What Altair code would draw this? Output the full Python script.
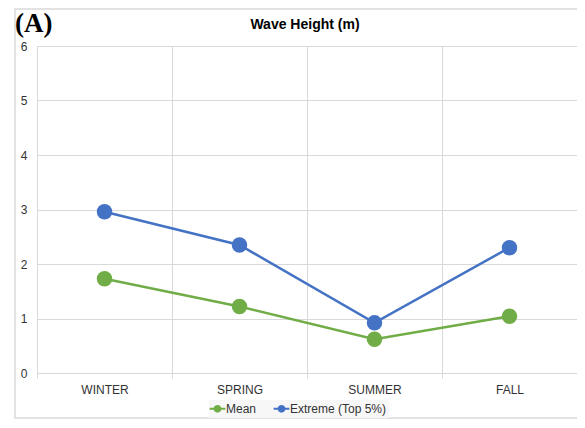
import altair as alt
import pandas as pd

seasons = ["WINTER", "SPRING", "SUMMER", "FALL"]
mean_vals = [1.73, 1.22, 0.62, 1.04]
extreme_vals = [2.96, 2.35, 0.92, 2.30]
series = ["Mean", "Extreme (Top 5%)"]
colors = ["#70AD47", "#4472C4"]
y_ticks = [0, 1, 2, 3, 4, 5, 6]
title_text = "Wave Height (m)"
panel_label = "(A)"

rows = []
for s, vals in zip(series, [mean_vals, extreme_vals]):
    for season, v in zip(seasons, vals):
        rows.append({"season": season, "series": s, "value": v})
df = pd.DataFrame(rows)

FONT = "Liberation Sans"
GRID = "#d9d9d9"
TXT = "#333333"
W = 540
H = 327

base = alt.Chart(df).encode(
    x=alt.X(
        "season:N",
        sort=seasons,
        title=None,
        scale=alt.Scale(type="band", paddingInner=0, paddingOuter=0),
        axis=alt.Axis(
            tickBand="extent",
            labelAngle=0,
            grid=True,
            gridColor=GRID,
            domainColor=GRID,
            tickColor=GRID,
            tickSize=5,
            labelFont=FONT,
            labelFontSize=12,
            labelColor=TXT,
            labelPadding=6,
        ),
    ),
    y=alt.Y(
        "value:Q",
        title=None,
        scale=alt.Scale(domain=[0, 6]),
        axis=alt.Axis(
            values=y_ticks,
            domain=False,
            ticks=False,
            gridColor=GRID,
            labelFont=FONT,
            labelFontSize=12,
            labelColor=TXT,
            labelPadding=10,
        ),
    ),
    color=alt.Color(
        "series:N",
        sort=series,
        scale=alt.Scale(domain=series, range=colors),
        legend=alt.Legend(
            title=None,
            orient="none",
            direction="horizontal",
            legendX=172,
            legendY=354,
            labelFont=FONT,
            labelFontSize=12,
            labelColor=TXT,
            symbolType="M-1.5,0H1.5M0.55,0A0.55,0.55,0,1,1,-0.55,0A0.55,0.55,0,1,1,0.55,0Z",
            symbolSize=110,
            symbolStrokeWidth=2,
            columnPadding=12,
            labelOffset=2,
            fillColor="#f7f7f7",
            padding=2,
        ),
    ),
)

lines = base.mark_line(
    strokeWidth=2.5,
    point=alt.OverlayMarkDef(filled=True, size=240, opacity=1),
)

frame = alt.Chart(pd.DataFrame({"k": [0]})).mark_rect(
    filled=False, stroke=GRID, strokeWidth=1.5
).encode(
    x=alt.value(-22), x2=alt.value(W + 1), y=alt.value(-37), y2=alt.value(H + 45)
)

label_a = alt.Chart(pd.DataFrame({"t": [panel_label]})).mark_text(
    font="Liberation Serif",
    fontWeight="bold",
    fontSize=27,
    align="left",
    baseline="middle",
    color="#000000",
).encode(text="t:N", x=alt.value(-22), y=alt.value(-22))

title_mark = alt.Chart(pd.DataFrame({"t": [title_text]})).mark_text(
    font=FONT,
    fontWeight="bold",
    fontSize=14,
    align="center",
    baseline="middle",
    color="#000000",
).encode(text="t:N", x=alt.value(268), y=alt.value(-21))

chart = (
    alt.layer(frame, lines, label_a, title_mark)
    .properties(
        width=W,
        height=H,
        autosize=alt.AutoSizeParams(type="none"),
        padding={"left": 29, "top": 38, "right": 0, "bottom": 46},
    )
    .configure_view(stroke=None)
)

chart.save("out.html", embed_options={"renderer": "svg", "actions": False})
